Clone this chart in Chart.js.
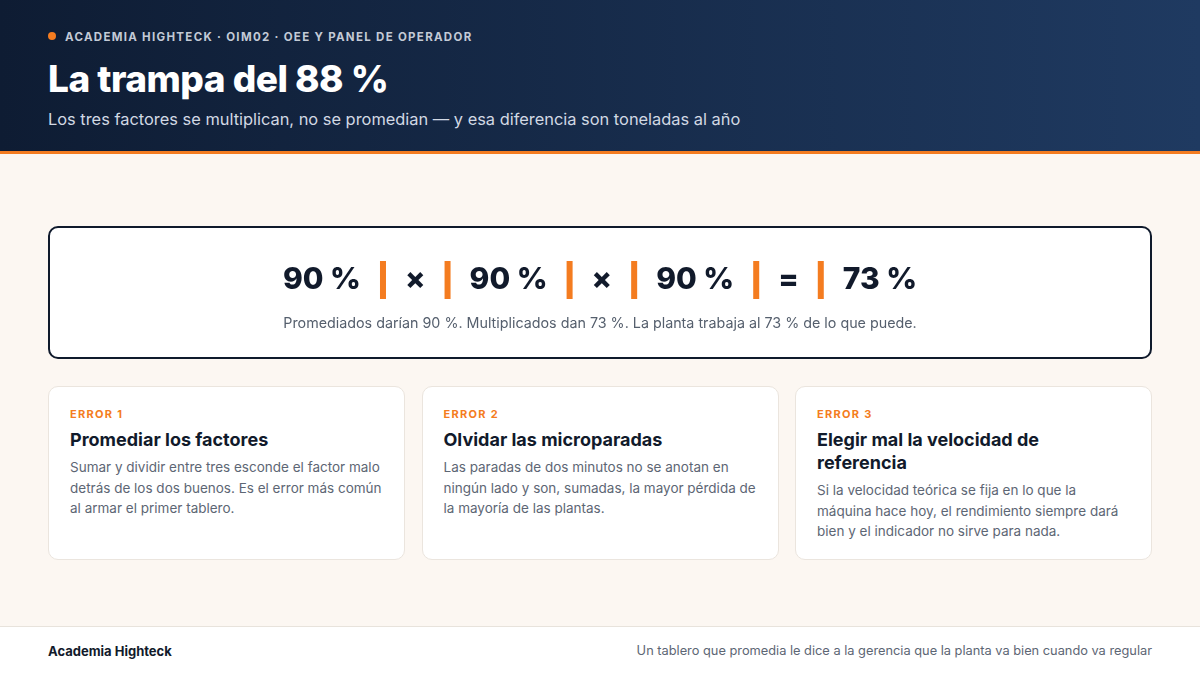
<!DOCTYPE html>
<html><head><meta charset="utf-8">
<script src="https://cdn.jsdelivr.net/npm/chart.js@4"></script>
<style>
*{margin:0;padding:0;box-sizing:border-box}
body{width:1200px;height:675px;font-family:Inter,"Noto Sans",sans-serif;background:#fcf7f2;position:relative;overflow:hidden}
.hdr{position:absolute;left:0;top:0;width:1200px;height:154px;background:linear-gradient(90deg,#0e1c33,#1f3a61);border-bottom:3px solid #f47c20}
.kick{position:absolute;left:48px;top:30px;font-size:11.5px;letter-spacing:1.3px;font-weight:700;color:#c3cad6}
.kick:before{content:"";display:inline-block;width:8px;height:8px;border-radius:50%;background:#f47c20;margin-right:9px;vertical-align:1px}
h1{position:absolute;left:48px;top:56px;font-size:37px;font-weight:800;color:#fff;letter-spacing:-0.5px}
.sub{position:absolute;left:48px;top:109px;font-size:16.4px;color:#d2d9e4}
.box{position:absolute;left:48px;top:226px;width:1104px;height:133px;background:#fff;border:2px solid #0f1a2c;border-radius:10px}
#eq{position:absolute;left:0;top:18px;width:1100px;height:70px}
.note{position:absolute;left:0;top:86px;width:1100px;text-align:center;font-size:14.3px;color:#555f6d}
.card{position:absolute;top:386px;width:357px;height:174px;background:#fff;border:1px solid #ebe5de;border-radius:10px;padding:20px 21px}
.card .e{font-size:11px;font-weight:700;letter-spacing:1.3px;color:#f47c20}
.card h3{font-size:18px;font-weight:700;color:#111a2b;margin-top:7px;line-height:23px}
.card p{font-size:13.5px;color:#5d6674;line-height:20.5px;margin-top:6px}
.ftr{position:absolute;left:0;top:626px;width:1200px;height:49px;background:#fff;border-top:1px solid #e8e3dc}
.fl{position:absolute;left:48px;top:16px;font-size:13px;font-weight:700;color:#111a2b}
.fr{position:absolute;right:48px;top:16px;font-size:12.8px;color:#5d6674}
</style></head><body>
<div class="hdr">
<div class="kick">ACADEMIA HIGHTECK · OIM02 · OEE Y PANEL DE OPERADOR</div>
<h1>La trampa del 88 %</h1>
<div class="sub">Los tres factores se multiplican, no se promedian — y esa diferencia son toneladas al año</div>
</div>
<div class="box"><canvas id="eq" width="1100" height="70"></canvas>
<div class="note">Promediados darían 90 %. Multiplicados dan 73 %. La planta trabaja al 73 % de lo que puede.</div></div>
<div id="cards"></div>
<div class="ftr"><div class="fl">Academia Highteck</div><div class="fr">Un tablero que promedia le dice a la gerencia que la planta va bien cuando va regular</div></div>
<script>
const factors=[90,90,90];
const result=73;
const operators=["×","×","="];
const errTitles=["Promediar los factores","Olvidar las microparadas","Elegir mal la velocidad de referencia"];
const errTexts=["Sumar y dividir entre tres esconde el factor malo detrás de los dos buenos. Es el error más común al armar el primer tablero.","Las paradas de dos minutos no se anotan en ningún lado y son, sumadas, la mayor pérdida de la mayoría de las plantas.","Si la velocidad teórica se fija en lo que la máquina hace hoy, el rendimiento siempre dará bien y el indicador no sirve para nada."];
const cards=document.getElementById('cards');
errTitles.forEach((t,i)=>{const d=document.createElement('div');d.className='card';d.style.left=(48+i*373.5)+'px';
d.innerHTML=`<div class="e">ERROR ${i+1}</div><h3>${t}</h3><p>${errTexts[i]}</p>`;cards.appendChild(d);});
const tokens=[];factors.forEach((f,i)=>{tokens.push(f+' %');tokens.push(operators[i]);});tokens.push(result+' %');
const eqPlugin={id:'eq',afterDraw(c){const x=c.ctx;x.save();x.font='800 30px Inter';x.textBaseline='middle';x.fillStyle='#111a2b';
const gap=19,bar=6;const widths=tokens.map(t=>x.measureText(t).width);
let total=widths.reduce((a,b)=>a+b,0)+(tokens.length-1)*(gap*2+bar);let cx=(1100-total)/2;const cy=34;
tokens.forEach((t,i)=>{x.fillStyle='#111a2b';x.fillText(t,cx,cy);cx+=widths[i];if(i<tokens.length-1){cx+=gap;x.fillStyle='#f47c20';x.fillRect(cx,cy-19,bar,38);cx+=bar+gap;}});x.restore();}};
new Chart(document.getElementById('eq'),{type:'bar',data:{labels:tokens,datasets:[{data:[],backgroundColor:'transparent'}]},
options:{responsive:false,animation:false,plugins:{legend:{display:false},tooltip:{enabled:false}},scales:{x:{display:false},y:{display:false}}},plugins:[eqPlugin]});
</script>
</body></html>
